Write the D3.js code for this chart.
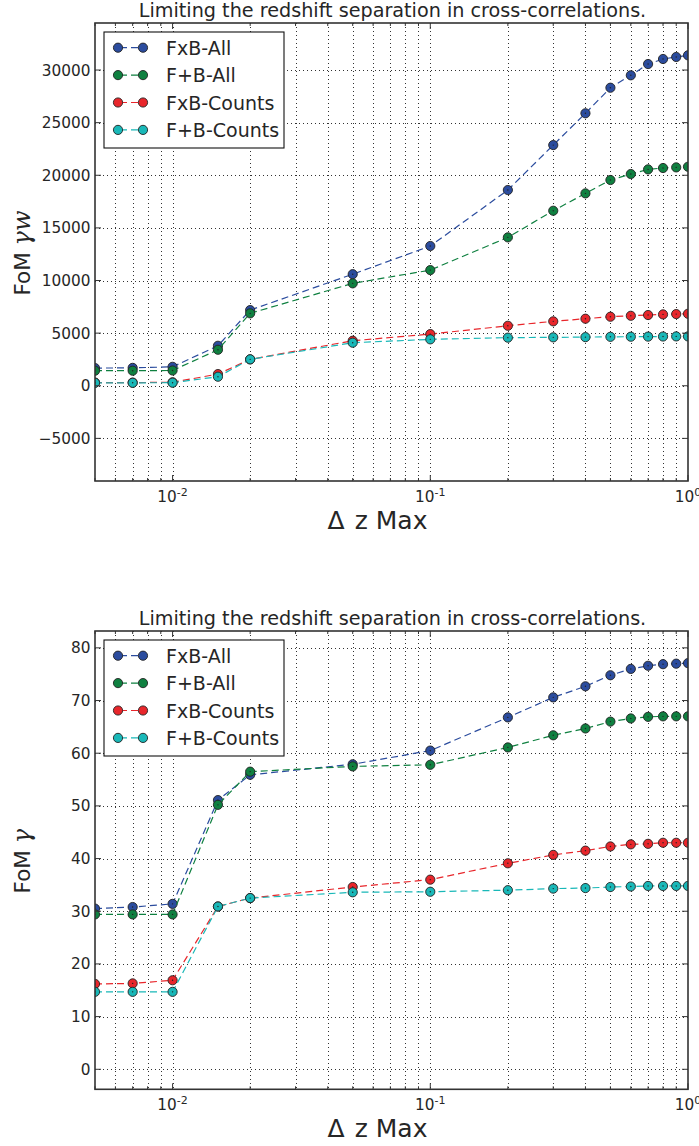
<!DOCTYPE html>
<html>
<head>
<meta charset="utf-8">
<script src="https://cdn.jsdelivr.net/npm/d3@7"></script>
<style>
  html, body { margin: 0; padding: 0; background: #fff; }
  svg { display: block; }
  text { font-family: "DejaVu Sans", sans-serif; fill: #262626; }
</style>
</head>
<body>
<svg id="fig" width="699" height="1146"></svg>
<script>
// Maximum redshift separation used in the cross-correlations
const dzMax = [0.005, 0.007, 0.01, 0.015, 0.02, 0.05, 0.1, 0.2, 0.3, 0.4, 0.5, 0.6, 0.7, 0.8, 0.9, 1.0];

const seriesNames = ["FxB-All", "F+B-All", "FxB-Counts", "F+B-Counts"];
const seriesColors = ["#2b4c9e", "#0f8040", "#e8262b", "#19b8b8"];

// Figure of merit, gamma + w
const fomGammaW_FxBAll    = [1680, 1700, 1800, 3800, 7190, 10600, 13280, 18600, 22870, 25890, 28320, 29500, 30570, 31050, 31240, 31400];
const fomGammaW_FpBAll    = [1430, 1430, 1450, 3420, 6880, 9730, 10990, 14100, 16630, 18280, 19550, 20120, 20560, 20690, 20750, 20810];
const fomGammaW_FxBCounts = [300, 300, 330, 1110, 2510, 4280, 4910, 5700, 6120, 6370, 6560, 6650, 6720, 6780, 6810, 6840];
const fomGammaW_FpBCounts = [280, 280, 290, 860, 2510, 4090, 4410, 4570, 4600, 4620, 4650, 4660, 4670, 4680, 4690, 4690];

// Figure of merit, gamma only
const fomGamma_FxBAll    = [30.5, 30.8, 31.4, 51.1, 55.9, 57.9, 60.5, 66.8, 70.6, 72.7, 74.8, 76.0, 76.6, 76.9, 77.0, 77.1];
const fomGamma_FpBAll    = [29.4, 29.4, 29.4, 50.2, 56.5, 57.5, 57.8, 61.1, 63.4, 64.7, 66.0, 66.6, 66.9, 67.0, 67.0, 67.0];
const fomGamma_FxBCounts = [16.2, 16.3, 16.9, 30.9, 32.5, 34.6, 36.0, 39.1, 40.7, 41.5, 42.3, 42.7, 42.8, 43.0, 43.0, 43.0];
const fomGamma_FpBCounts = [14.7, 14.7, 14.7, 30.9, 32.5, 33.6, 33.7, 34.0, 34.3, 34.4, 34.6, 34.7, 34.8, 34.8, 34.8, 34.8];

// Axis ticks
const xMajorTicks = [0.01, 0.1, 1];
const xMajorExponents = ["-2", "-1", "0"];
const xMinorTicks = [0.005, 0.006, 0.007, 0.008, 0.009,
                     0.02, 0.03, 0.04, 0.05, 0.06, 0.07, 0.08, 0.09,
                     0.2, 0.3, 0.4, 0.5, 0.6, 0.7, 0.8, 0.9];
const yTicksGammaW = [-5000, 0, 5000, 10000, 15000, 20000, 25000, 30000];
const yTicksGamma = [0, 10, 20, 30, 40, 50, 60, 70, 80];

const titleText = "Limiting the redshift separation in cross-correlations.";

const svg = d3.select("#fig");

function drawPanel(opts) {
  const { left, right, top, bottom } = opts;
  const g = svg.append("g");

  const x = d3.scaleLog().domain([0.005, 1]).range([left, right]);
  const y = d3.scaleLinear().domain(opts.yDomain).range([bottom, top]);

  const clipId = "clip" + opts.id;
  svg.append("defs").append("clipPath").attr("id", clipId)
    .append("rect").attr("x", left).attr("y", top)
    .attr("width", right - left).attr("height", bottom - top);

  // grid
  const grid = g.append("g").attr("stroke", "#000").attr("stroke-width", 1)
    .attr("stroke-dasharray", "1,3").attr("opacity", 0.8);
  xMajorTicks.concat(xMinorTicks).forEach(t => {
    const px = Math.round(x(t)) + 0.5;
    if (px <= left + 1 || px >= right - 1) return;
    grid.append("line").attr("x1", px).attr("x2", px).attr("y1", top).attr("y2", bottom);
  });
  opts.yTicks.forEach(t => {
    const py = Math.round(y(t)) + 0.5;
    grid.append("line").attr("x1", left).attr("x2", right).attr("y1", py).attr("y2", py);
  });

  // series
  const plot = g.append("g").attr("clip-path", `url(#${clipId})`);
  const line = d3.line().x((d, i) => x(dzMax[i])).y(d => y(d));
  opts.series.forEach((vals, k) => {
    plot.append("path").datum(vals)
      .attr("d", line).attr("fill", "none")
      .attr("stroke", seriesColors[k]).attr("stroke-width", 1.2)
      .attr("stroke-dasharray", "7,4");
    const m = plot.append("g");
    vals.forEach((v, i) => {
      m.append("circle").attr("cx", x(dzMax[i])).attr("cy", y(v)).attr("r", 4.6)
        .attr("fill", seriesColors[k]).attr("stroke", "#222").attr("stroke-width", 0.9);
      m.append("circle").attr("cx", x(dzMax[i])).attr("cy", y(v)).attr("r", 0.7)
        .attr("fill", "#222");
    });
  });

  // spines
  g.append("rect").attr("x", left).attr("y", top)
    .attr("width", right - left).attr("height", bottom - top)
    .attr("fill", "none").attr("stroke", "#333").attr("stroke-width", 1.6);

  // ticks (inward, all four sides)
  const ticks = g.append("g").attr("stroke", "#333").attr("stroke-width", 1);
  xMajorTicks.forEach(t => {
    const px = x(t);
    ticks.append("line").attr("x1", px).attr("x2", px).attr("y1", bottom).attr("y2", bottom - 6);
    ticks.append("line").attr("x1", px).attr("x2", px).attr("y1", top).attr("y2", top + 6);
  });
  xMinorTicks.forEach(t => {
    const px = x(t);
    ticks.append("line").attr("x1", px).attr("x2", px).attr("y1", bottom).attr("y2", bottom - 3);
    ticks.append("line").attr("x1", px).attr("x2", px).attr("y1", top).attr("y2", top + 3);
  });
  opts.yTicks.forEach(t => {
    const py = y(t);
    ticks.append("line").attr("x1", left).attr("x2", left + 6).attr("y1", py).attr("y2", py);
    ticks.append("line").attr("x1", right).attr("x2", right - 6).attr("y1", py).attr("y2", py);
  });

  // y tick labels
  const fmt = v => (v < 0 ? "\u2212" + Math.abs(v) : String(v));
  opts.yTicks.forEach(t => {
    g.append("text").attr("x", left - 4.5).attr("y", y(t) + 5.5)
      .attr("text-anchor", "end").attr("font-size", 15.3).text(fmt(t));
  });

  // x tick labels as powers of ten
  xMajorTicks.forEach((t, i) => {
    const lbl = g.append("text").attr("x", x(t)).attr("y", bottom + 21)
      .attr("text-anchor", "middle").attr("font-size", 15.3);
    lbl.append("tspan").text("10");
    lbl.append("tspan").attr("dy", -6).attr("font-size", 11).text(xMajorExponents[i]);
  });

  // title
  g.append("text").attr("x", (left + right) / 2 + 1).attr("y", top - 6.3)
    .attr("text-anchor", "middle").attr("font-size", 19.2).text(titleText);

  // x label
  const xl = g.append("text").attr("x", (left + right) / 2 - 14).attr("y", bottom + 48)
    .attr("text-anchor", "middle").attr("font-size", 25);
  xl.append("tspan").text("\u0394");
  xl.append("tspan").attr("dx", 10).text("z Max");

  // y label
  const yl = g.append("text")
    .attr("transform", `translate(30,${(top + bottom) / 2 + 1}) rotate(-90)`)
    .attr("text-anchor", "middle").attr("font-size", 21.5);
  yl.append("tspan").text("FoM ");
  yl.append("tspan").attr("font-family", "'DejaVu Serif', serif")
    .attr("font-style", "italic").attr("font-size", 24).text(opts.ySym);

  // legend
  const lg = g.append("g");
  const lx = left + 9, ly = top + 9;
  lg.append("rect").attr("x", lx).attr("y", ly).attr("width", 180).attr("height", 116)
    .attr("fill", "#fff").attr("stroke", "#111").attr("stroke-width", 1.1);
  seriesNames.forEach((name, k) => {
    const ry = ly + 15.7 + k * 27.4;
    lg.append("line").attr("x1", lx + 14).attr("x2", lx + 39).attr("y1", ry).attr("y2", ry)
      .attr("stroke", seriesColors[k]).attr("stroke-width", 1.2).attr("stroke-dasharray", "7,4")
      .attr("stroke-dashoffset", -2);
    [lx + 14, lx + 39].forEach(cx => {
      lg.append("circle").attr("cx", cx).attr("cy", ry).attr("r", 4.6)
        .attr("fill", seriesColors[k]).attr("stroke", "#222").attr("stroke-width", 0.9);
    });
    lg.append("text").attr("x", lx + 62).attr("y", ry + 7).attr("font-size", 19).text(name);
  });
}

drawPanel({
  id: "gw", left: 95, right: 688, top: 23, bottom: 481,
  yDomain: [-9050, 34470], yTicks: yTicksGammaW, ySym: "\u03b3w",
  series: [fomGammaW_FxBAll, fomGammaW_FpBAll, fomGammaW_FxBCounts, fomGammaW_FpBCounts]
});

drawPanel({
  id: "g", left: 95, right: 688, top: 631, bottom: 1089.3,
  yDomain: [-3.8, 83.2], yTicks: yTicksGamma, ySym: "\u03b3",
  series: [fomGamma_FxBAll, fomGamma_FpBAll, fomGamma_FxBCounts, fomGamma_FpBCounts]
});
</script>
</body>
</html>
